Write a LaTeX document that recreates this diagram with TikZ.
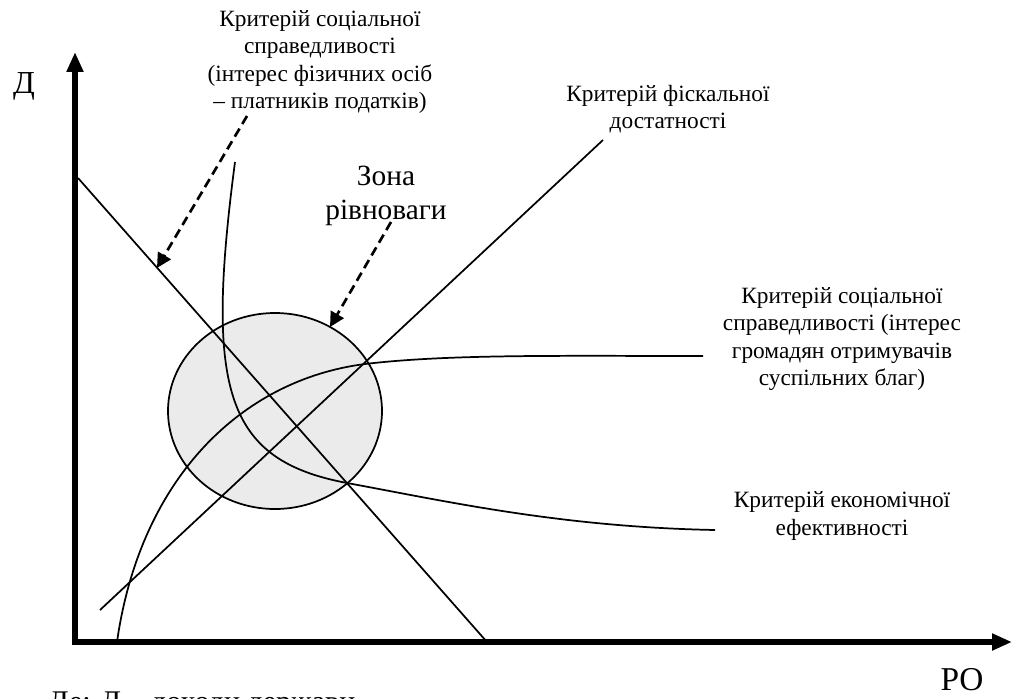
\documentclass[tikz,border=0pt]{standalone}
\usepackage{fontspec}
\setmainfont{Liberation Serif}
\usetikzlibrary{arrows.meta}

\tikzset{
  curve/.style={line width=1.3pt},
  axis/.style={line width=3.8pt, -{Triangle[length=15pt,width=12pt]}},
  pointer/.style={line width=2pt, dash pattern=on 7pt off 4pt, -{Triangle[length=11pt,width=11pt]}},
  lbl/.style={align=center, font=\fontsize{17.5}{20.6}\selectfont, inner sep=0pt}
}

\begin{document}
\begin{tikzpicture}[x=0.75pt, y=-0.75pt]
  \useasboundingbox (0,0) rectangle (1017,699);
  % equilibrium zone
  \draw[curve, fill=black!8] (275,411) ellipse [x radius=107, y radius=98];
  % axes
  \coordinate (o) at (75,642);
  \draw[axis] (o) -- (75,52);
  \draw[axis] ([xshift=-1.9pt]o) -- (1012,642);
  \node[font=\fontsize{24}{28}\selectfont] (d) at (24,86) {Д};
  \node[font=\fontsize{25}{28}\selectfont] (ro) at (962,680) {РО};
  \node[anchor=base west, inner sep=0pt, font=\fontsize{22.5}{26}\selectfont] (note) at (48,711) {Де: Д – доходи держави};
  % criteria
  \draw[curve] (78,178) coordinate (fa) -- (487,642) coordinate (fb);
  \draw[curve] (100,610) coordinate (sa) -- (603,140) coordinate (sb);
  \draw[curve] (117,642) .. controls (140,480) and (240,380) .. (365,364)
               .. controls (450,354) and (560,356) .. (703,356);
  \draw[curve] (235,162) .. controls (205,390) and (225,460) .. (347,483)
               .. controls (445,501) and (560,527) .. (715,530);
  % labels
  \node[lbl] (phys) at (320,62) {Критерій соціальної\\справедливості\\(інтерес фізичних осіб\\– платників податків)};
  \node[lbl] (fisc) at (668,109) {Критерій фіскальної\\достатності};
  \node[lbl, font=\fontsize{22}{25}\selectfont] (zone) at (386,196) {Зона\\рівноваги};
  \node[lbl] (citz) at (842,339) {Критерій соціальної\\справедливості (інтерес\\громадян отримувачів\\суспільних благ)};
  \node[lbl] (econ) at (842,516) {Критерій економічної\\ефективності};
  % pointers
  \coordinate (p1) at (247,116);
  \coordinate (t1) at (157,268);
  \coordinate (p2) at (391,222);
  \coordinate (t2) at (330,327);
  \draw[pointer] (p1) -- (t1);
  \draw[pointer] (p2) -- (t2);
\end{tikzpicture}
\end{document}
